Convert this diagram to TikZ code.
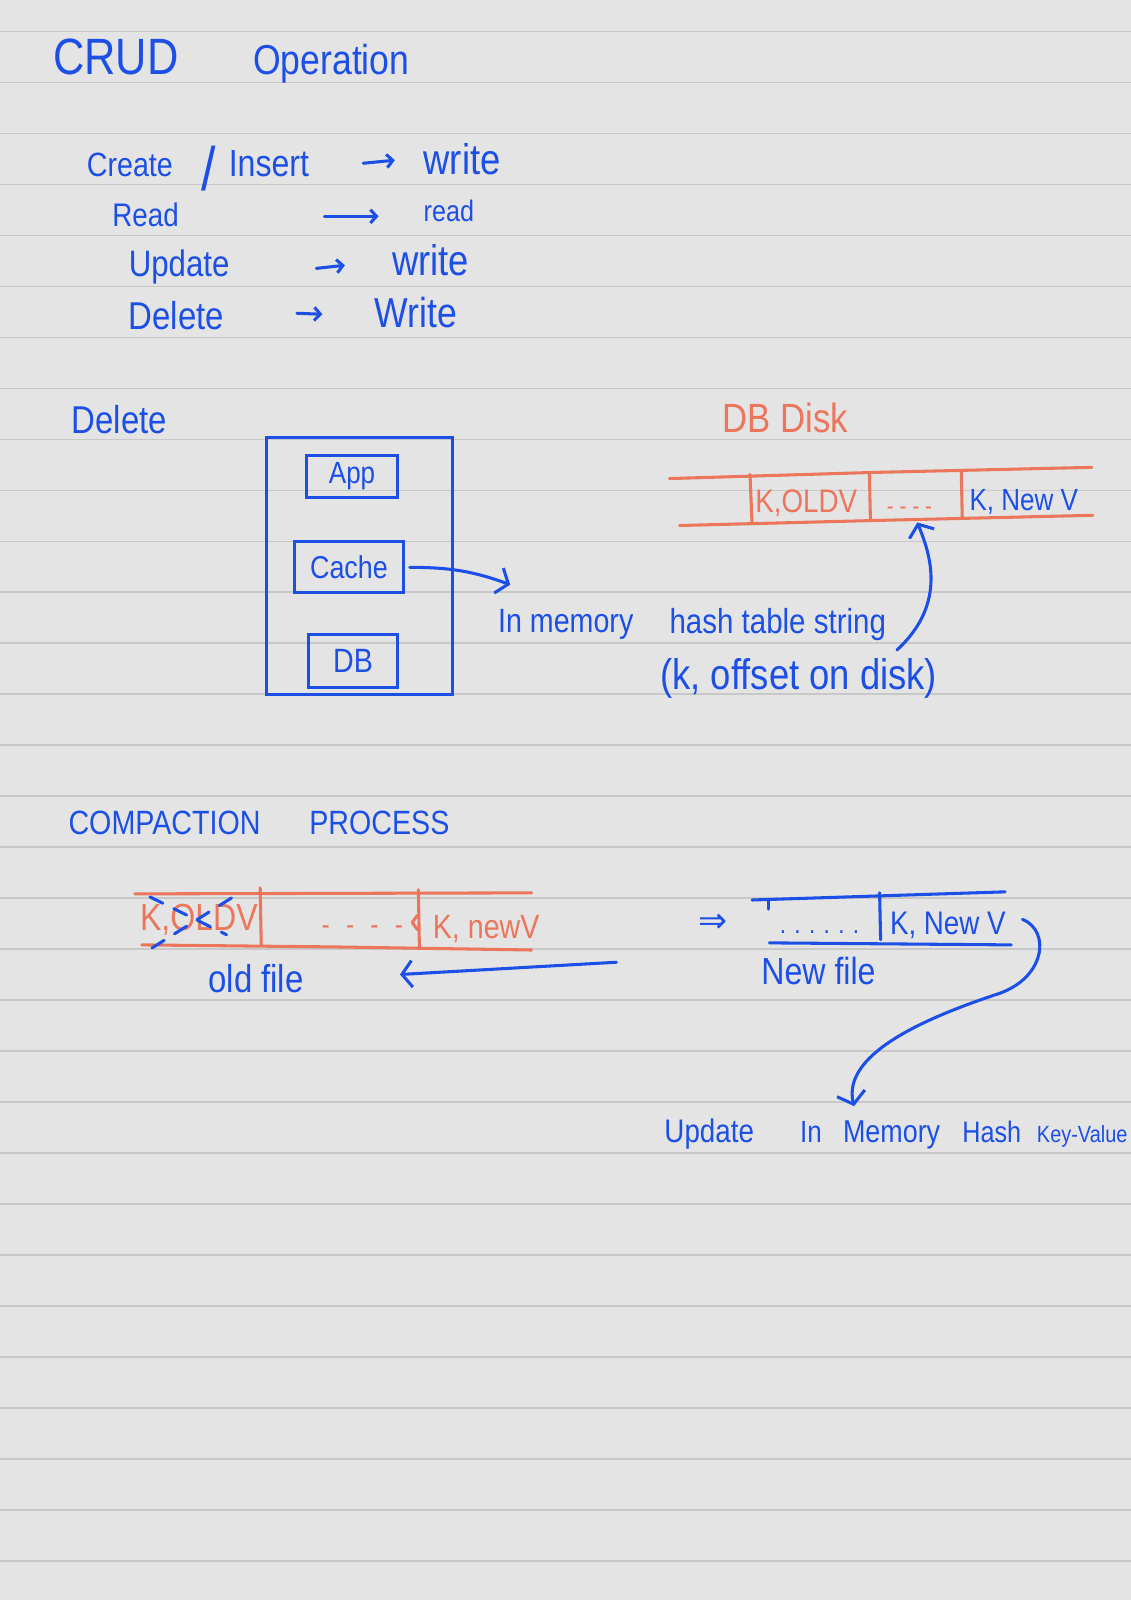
\documentclass[tikz,border=0pt]{standalone}
\usepackage{fontspec}
\newfontfamily\handf[FakeStretch=0.85]{Liberation Sans}
\newfontfamily\symf{DejaVu Sans}
\usetikzlibrary{arrows.meta}
\definecolor{paper}{HTML}{E4E4E4}
\definecolor{rulec}{HTML}{C8C8C8}
\definecolor{inkblue}{HTML}{1C4FE6}
\definecolor{inkorange}{HTML}{EC765C}
\begin{document}
\begin{tikzpicture}[x=1pt,y=-1pt,
  txt/.style={inner sep=0pt, anchor=base west, text=inkblue, font=\handf\fontsize{#1}{#1}\selectfont},
  otxt/.style={txt=#1, text=inkorange},
  ink/.style={draw=inkblue, line width=3pt, line cap=round, line join=round},
  oink/.style={draw=inkorange, line width=3pt, line cap=round, line join=round},
  sarr/.style={ink, -{Straight Barb[length=6pt, width=13pt]}},
  larr/.style={ink, -{Straight Barb[length=10pt, width=26pt]}},
  boxn/.style={draw=inkblue, line width=3pt, inner sep=0pt, text=inkblue, anchor=center},
  boxt/.style={boxn, font=\handf\fontsize{#1}{#1}\selectfont}
]
% paper
\fill[paper] (0,0) rectangle (1108,1568);
\useasboundingbox (0,0) rectangle (1108,1568);
\foreach \k in {0,...,30}
  \draw[rulec, line width=1.6pt] (0,30.9+49.96*\k) -- (1108,30.9+49.96*\k);

% ---- CRUD list
\node[txt=50] (crud) at (52,73) {CRUD};
\node[txt=41] (oper) at (248,73) {Operation};
\node[txt=33] (create) at (85,173) {Create};
\node[txt=60] (slash) at (197,187) {/};
\node[txt=37] (insert) at (224,173) {Insert};
\node[txt=42] (w1) at (415,171) {write};
\node[txt=32] (read) at (110,222) {Read};
\node[txt=29] (read2) at (415,217) {read};
\node[txt=36] (update) at (126,271) {Update};
\node[txt=42] (w2) at (384,270) {write};
\node[txt=38] (delete) at (126,323) {Delete};
\node[txt=41] (w3) at (367,321) {Write};
\coordinate (a1s) at (356,160); \coordinate (a1e) at (387,157);
\coordinate (a2s) at (318,212); \coordinate (a2e) at (371,212);
\coordinate (a3s) at (310,263); \coordinate (a3e) at (338,260);
\coordinate (a4s) at (291,307); \coordinate (a4e) at (316,308);
\draw[sarr] (a1s) -- (a1e);
\draw[sarr] (a2s) -- (a2e);
\draw[sarr] (a3s) -- (a3e);
\draw[sarr] (a4s) -- (a4e);

% ---- Delete section
\node[txt=38] (dellbl) at (70,425) {Delete};
\node[boxn, minimum width=182pt, minimum height=252pt] (stack) at (352,555) {};
\node[boxt=30, minimum width=90pt, minimum height=41pt] (app) at (345,467) {App};
\node[boxt=31, minimum width=106pt, minimum height=50pt] (cache) at (342,556) {Cache};
\node[boxt=33, minimum width=88pt, minimum height=52pt] (db) at (346,648) {DB};
\coordinate (cachetip) at (500,573);
\draw[larr] ([xshift=5pt]cache.east) to[out=0, in=160] (cachetip);
\node[txt=33] (inmem) at (488,620) {In memory};
\node[txt=34] (hasht) at (656,621) {hash table string};
\node[txt=42] (koff) at (647,676) {(k, offset on disk)};

% disk strip
\node[otxt=40] (dbdisk) at (708,424) {DB Disk};
\draw[oink] (656,469) -- (855,463) -- (1070,458);
\draw[oink] (666,515) -- (860,510) -- (1071,505);
\draw[oink] (735,465) -- (737,513);
\draw[oink] (852,463) -- (853,510);
\draw[oink] (942,461) -- (943,507);
\node[otxt=32] (kold) at (740,502) {K,OLDV};
\node[otxt=24] (ddash) at (869,504) {- - - -};
\node[txt=30] (knew) at (950,500) {K, New V};
\coordinate (ptrA) at (879,637); \coordinate (ptrB) at (899,512);
\draw[larr] (ptrA) .. controls (930,590) and (910,540) .. (ptrB);

% ---- Compaction
\node[txt=33] (compa) at (67,818) {COMPACTION};
\node[txt=33] (proc) at (303,818) {PROCESS};
\draw[oink] (132,876) -- (521,875);
\draw[oink] (139,926) -- (330,928) -- (521,931);
\draw[oink] (255,870) -- (256,926);
\draw[oink] (410,872) -- (411,928);
\draw[oink] (409,897) -- (404,904) -- (409,911);
\node[otxt=37] (kold2) at (137,912) {K,OLDV};
\draw[ink, dash pattern=on 14pt off 12pt] (147,879) -- (222,916);
\draw[ink, dash pattern=on 14pt off 12pt] (149,929) -- (230,878);
\node[otxt=28] (odash) at (315,916) {-\hspace{16pt}-\hspace{16pt}-\hspace{16pt}-};
\node[otxt=33] (knew2) at (424,920) {K, newV};
\node[txt=38] (oldf) at (204,973) {old file};
\coordinate (backS) at (604,943); \coordinate (backE) at (392,955);
\draw[larr] (backS) -- (backE);

\node[font=\symf\fontsize{34}{34}\selectfont, text=inkblue, inner sep=0pt] (dbl) at (699,905) {⇒};

% new file strip
\draw[ink] (737,882) -- (985,874);
\draw[ink] (753,882) -- (753,891);
\draw[ink] (754,924) -- (991,926);
\draw[ink] (862,875) -- (863,921);
\node[txt=26] (ndots) at (764,915) {. . . . . .};
\node[txt=32] (knew3) at (872,916) {K, New V};
\node[txt=37] (newf) at (746,965) {New file};
\coordinate (loopS) at (1002,901); \coordinate (loopE) at (837,1084);
\draw[ink, -{Straight Barb[length=11pt, width=28pt]}] (loopS) .. controls (1030,912) and (1025,960) .. (975,975) .. controls (900,1000) and (825,1035) .. (loopE);

\node[txt=32] (upd) at (651,1120) {Update};
\node[txt=30] (inw) at (784,1120) {In};
\node[txt=31] (mem) at (826,1120) {Memory};
\node[txt=29] (hashw) at (943,1120) {Hash};
\node[txt=23] (kv) at (1016,1120) {Key-Value};
\end{tikzpicture}
\end{document}
